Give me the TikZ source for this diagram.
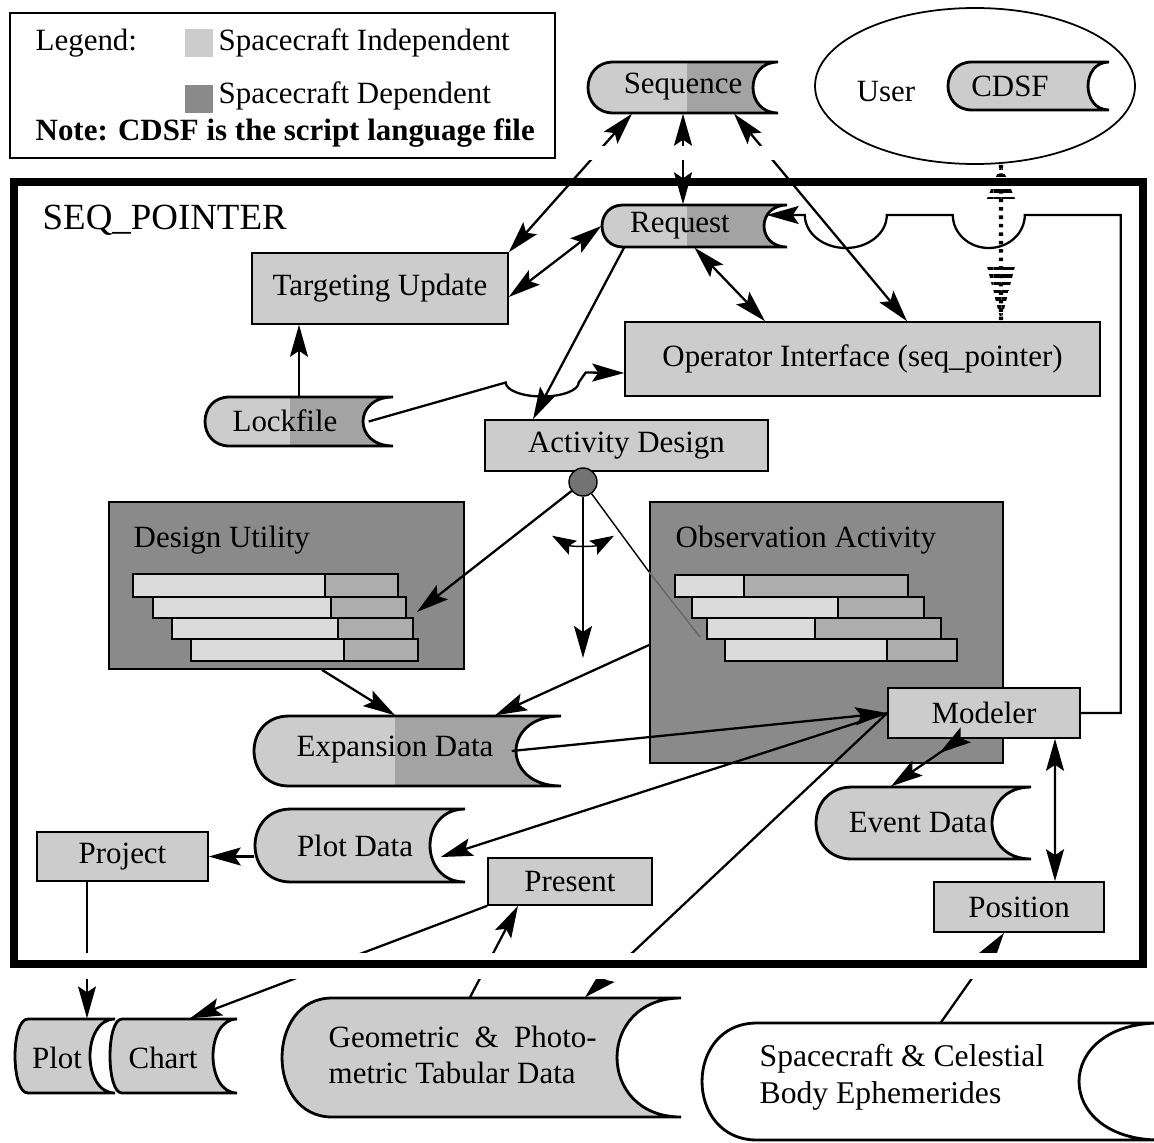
\documentclass[tikz,border=0pt]{standalone}
\usepackage{fontspec}
\setmainfont{Liberation Serif}
\usetikzlibrary{arrows.meta,shapes.geometric,patterns.meta,decorations.markings}

\colorlet{slight}{black!20}
\colorlet{sdark}{black!36}
\colorlet{sbig}{black!46}

\tikzset{
  box/.style={draw, line width=0.45pt, fill=slight, inner sep=0pt, font=\fontsize{8.8}{10.4}\selectfont},
  bigbox/.style={draw, line width=0.5pt, fill=sbig, inner sep=0pt},
  lbl/.style={inner sep=0pt, font=\fontsize{8.8}{10.4}\selectfont},
  conn/.style={line width=0.65pt},
  thinconn/.style={line width=0.4pt},
  storeline/.style={draw, line width=0.8pt, fill=slight},
  barlight/.style={draw, line width=0.4pt, fill=black!14},
  bardark/.style={draw, line width=0.4pt, fill=black!32},
}

% data store: [opts] name, x1, y1, x2, y2, left bulge, right notch, split x
\newcommand{\dstore}[9][]{%
  \path[storeline,#1,path picture={\fill[sdark] (#9,0) rectangle (1300,1300);}]
    (#5,#4) -- ({#3+#7},#4) .. controls ({#3-0.333*#7},#4) and ({#3-0.333*#7},#6) .. ({#3+#7},#6)
    -- (#5,#6) .. controls ({#5-1.333*#8},#6) and ({#5-1.333*#8},#4) .. (#5,#4) -- cycle;
  \node[inner sep=0pt, minimum width={(#5-#3)*0.1mm}, minimum height={(#6-#4)*0.1mm}] (#2) at ({(#3+#5)/2},{(#4+#6)/2}) {};
}

\begin{document}
\begin{tikzpicture}[x=0.1mm, y=-0.1mm, >={Stealth[length=3.2mm,width=1.8mm,inset=0.6mm]}]
\useasboundingbox (0,0) rectangle (1154,1142);

% legend
\node (legend) [draw, line width=0.45pt, minimum width=54.5mm, minimum height=14.5mm, inner sep=0pt] at (282.5,85.5) {};
\node (sw1) [fill=slight, minimum width=2.8mm, minimum height=2.8mm, inner sep=0pt] at (199,43) {};
\node (sw2) [fill=sbig, minimum width=2.8mm, minimum height=2.8mm, inner sep=0pt] at (199,99) {};
\node (legt) [lbl, anchor=west] at (35,43) {Legend:};
\node (ind) [lbl, anchor=west] at (218,43) {Spacecraft Independent};
\node (dep) [lbl, anchor=west] at (218,96) {Spacecraft Dependent};
\node (note) [lbl, anchor=west, font=\fontsize{8.8}{10.4}\selectfont\bfseries] at (35,133) {Note: CDSF is the script language file};

% outside the frame, top
\dstore{seq}{588}{62}{778}{113}{25.5}{25}{687}
\node (seqt) [lbl] at (683,87) {Sequence};
\node (user) [draw, ellipse, line width=0.5pt, minimum width=32mm, minimum height=15.6mm, inner sep=0pt] at (975,86) {};
\node (usert) [lbl] at (886,92) {User};
\dstore{cdsf}{948}{62}{1109}{110}{24}{21}{2000}
\node (cdsft) [lbl] at (1010,86) {CDSF};

% stores inside
\dstore{req}{602}{205}{787}{247}{21}{23}{687}
\node (reqt) [lbl] at (680,226) {Request};
\dstore{lock}{205}{397}{393}{446}{24.5}{30}{290}
\node (lockt) [lbl] at (285,421) {Lockfile};
\dstore{exp}{254}{716}{561}{786}{35}{45}{395}
\node (expt) [lbl] at (395,750) {Expansion Data};
\dstore{pdat}{255}{809}{465}{882}{36}{35}{2000}
\node (pdatt) [lbl] at (355,846) {Plot Data};
\dstore{evt}{816}{787}{1031}{859}{36}{39}{2000}
\node (evtt) [lbl] at (918,823) {Event Data};

% stores below the frame
\dstore{plot}{15}{1019}{115}{1093}{13}{25}{2000}
\node (plott) [lbl] at (57,1058) {Plot};
\dstore{chart}{110}{1019}{237}{1093}{12}{24}{2000}
\node (chartt) [lbl] at (163,1058) {Chart};
\dstore{geo}{282}{998}{681}{1117}{50}{64}{2000}
\node (geot) [lbl, anchor=west, align=left] at (328,1055) {\makebox[26.8mm][s]{Geometric \& Photo-}\\metric Tabular Data};
\dstore[fill=white]{eph}{702}{1023}{1160}{1140}{55}{81}{2000}
\node (epht) [lbl, anchor=west, align=left, font=\fontsize{9}{10.6}\selectfont] at (759,1077) {Spacecraft \& Celestial\\Body Ephemerides};

% process boxes
\node (tgt) [box, minimum width=25.6mm, minimum height=7.1mm] at (380,288.5) {Targeting Update};
\node (op) [box, minimum width=47.5mm, minimum height=7.4mm] at (862.5,359) {Operator Interface (seq\_pointer)};
\node (act) [box, minimum width=28.3mm, minimum height=5.1mm] at (626.5,445.5) {Activity Design};

\node (dsg) [bigbox, minimum width=35.5mm, minimum height=16.7mm] at (286.5,585.5) {};
\node (dsgt) [lbl, anchor=west] at (133,540) {Design Utility};
\draw[barlight] (133,574) rectangle (325,597); \draw[bardark] (325,574) rectangle (398,597);
\draw[barlight] (153,597) rectangle (331,618); \draw[bardark] (331,597) rectangle (406,618);
\draw[barlight] (172,618) rectangle (338,639); \draw[bardark] (338,618) rectangle (413,639);
\draw[barlight] (191,639) rectangle (344,661); \draw[bardark] (344,639) rectangle (418,661);

\node (obs) [bigbox, minimum width=35.3mm, minimum height=26.1mm] at (826.5,632.5) {};
\node (obst) [lbl, anchor=west] at (675,540) {Observation Activity};
\draw[barlight] (675,575) rectangle (744,597); \draw[bardark] (744,575) rectangle (908,597);
\draw[barlight] (692,597) rectangle (838,618); \draw[bardark] (838,597) rectangle (924,618);
\draw[barlight] (707,618) rectangle (815,639); \draw[bardark] (815,618) rectangle (941,639);
\draw[barlight] (725,639) rectangle (887,661); \draw[bardark] (887,639) rectangle (957,661);

\node (mod) [box, minimum width=19.2mm, minimum height=5mm, path picture={\fill[sdark] (985,0) rectangle (1300,1300);}] at (984,713) {Modeler};
\node (proj) [box, minimum width=17.1mm, minimum height=4.9mm] at (122.5,856.5) {Project};
\node (pres) [box, minimum width=16.4mm, minimum height=4.7mm] at (570,881.5) {Present};
\node (pos) [box, minimum width=17mm, minimum height=5mm] at (1019,907) {Position};

\node (junc) [circle, draw, line width=0.4pt, fill=black!55, minimum size=2.8mm, inner sep=0pt] at (583,482) {};
\coordinate (dsgin) at (417,612);
\coordinate (jdown) at (583,658);
\coordinate (obsin) at (700,637);

% connectors
\draw[conn,<->] ([xshift=-5.1mm]seq.south) -- (tgt.north east);
\draw[conn,<->] ([yshift=-0.85mm]tgt.east) -- (req.west);
\draw[conn,<->] (seq.south) -- (seq.south |- req.north);
\draw[conn,<->] ([xshift=5.1mm]seq.south) -- ([xshift=4.45mm]op.north);
\draw[conn,<->] (req.south) -- ([xshift=-9.75mm]op.north);
\draw[conn,->] ([xshift=-7.05mm]req.south) -- ([xshift=-9.35mm]act.north);
\draw[conn,->] (lock.north) -- (lock.north |- tgt.south);
\draw[conn,->] ([xshift=-2.5mm]lock.east) -- ++(137,-39) arc[start angle=180, end angle=360, x radius=3.65mm, y radius=1.4mm] -- ++(7,-10) -- ([yshift=-1.4mm]op.west);

\draw[line width=1.2pt, dash pattern=on 1pt off 1.4pt] ([xshift=2.6mm]user.south) -- ([xshift=13.85mm]op.north);
\fill[pattern={Lines[angle=0,distance=2.2pt,line width=1pt]}] ([xshift=2.6mm]user.south) -- ++(14,34) -- ++(-28,0) -- cycle;
\fill[pattern={Lines[angle=0,distance=2.2pt,line width=1pt]}] ([xshift=13.85mm]op.north) -- ++(14,-55) -- ++(-28,0) -- cycle;

\draw[conn,->] (junc) -- (dsgin);
\draw[conn,->] (junc) -- (jdown);
\draw[thinconn] (junc) -- ([yshift=6.05mm]obs.west);
\draw[thinconn, black!60] ([yshift=6.05mm]obs.west) -- (obsin);
\draw[thinconn,<->, >={Stealth[length=2.4mm,width=1.6mm,inset=0.4mm]}] ([shift={(-120:6.2mm)}]junc.center) arc[start angle=-120, end angle=-60, radius=6.2mm];

\draw[conn,->] ([xshift=3.55mm]dsg.south) -- ([xshift=-1.25mm]exp.north);
\draw[conn,->] ([yshift=-1.25mm]obs.west) -- ([xshift=8.75mm]exp.north);
\draw[conn,->] ([xshift=-5mm]exp.east) -- (mod.west);
\draw[conn,->] (mod.west) -- ([xshift=-2.5mm,yshift=-1.15mm]pdat.east);
\draw[conn,->] (mod.west) -- ([xshift=10.35mm]geo.north);
\draw[conn,->, postaction={decorate}, decoration={markings, mark=at position 0.3 with {\arrow{Stealth[length=3.2mm,width=1.8mm,inset=0.6mm]}}}] ([xshift=-2.4mm]mod.south) -- ([xshift=-3.25mm]evt.north);
\draw[conn,<->] ([xshift=7.1mm]mod.south) -- ([xshift=3.6mm]pos.north);
\draw[conn,->] (mod.east) -- ++(40,0) -- ++(0,-498) -- ++(-96,0) arc[start angle=0, end angle=-180, x radius=3.6mm, y radius=3.3mm] -- ++(-66,0) arc[start angle=0, end angle=-180, x radius=4.1mm, y radius=3.3mm] -- ([xshift=-2.1mm,yshift=1.1mm]req.east);

\draw[conn,->] (pdat.west |- proj.east) -- (proj.east);
\draw[thinconn,->] ([xshift=-3.55mm]proj.south) -- ([xshift=-3.55mm]proj.south |- plot.north);
\draw[conn,->] (pres.south west) -- ([xshift=1.65mm]chart.north);
\draw[conn,->] ([xshift=-1.15mm]geo.north) -- ([xshift=-5.2mm]pres.south);
\draw[conn,->] ([xshift=1mm]eph.north) -- ([xshift=-1.5mm]pos.south);

% breaks in the lines near the frame
\fill[white] (560,146) rectangle (790,160);
\fill[white] (20,953) rectangle (1136,979);

% SEQ_POINTER frame
\node (seqp) [draw, line width=0.8mm, minimum width=112.9mm, minimum height=78.2mm, inner sep=0pt] at (578.5,573) {};
\node (title) [lbl, anchor=west, font=\fontsize{10.5}{12}\selectfont] at (42,220) {SEQ\_POINTER};
\end{tikzpicture}
\end{document}
